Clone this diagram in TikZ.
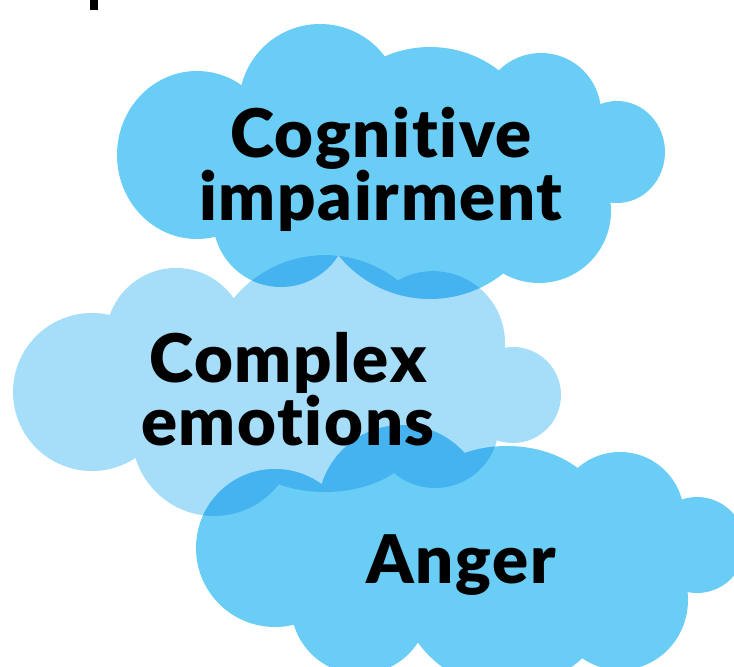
\documentclass[tikz,border=0pt]{standalone}
\usepackage{fontspec}
\setmainfont{Lato}[Ligatures=NoCommon,LetterSpace=2.5,BoldFont={Lato Black}]
\definecolor{cloudblue}{HTML}{69CDF6}
\definecolor{cloudpale}{HTML}{A6DEF9}
\definecolor{cloudoverlap}{HTML}{45B3F0}
% cloud outlines, one lobe per circle (pixel units, y down)
\newcommand\cogcloud{(197,155) ellipse [x radius=80, y radius=84]
  (320,105) circle [radius=81] (430,160) circle [radius=113]
  (541,113) circle [radius=60] (617,152) ellipse [x radius=48, y radius=51]
  (539,211) circle [radius=72] (430,181) circle [radius=118]
  (281,219) circle [radius=68]}
\newcommand\emocloud{(92,392) circle [radius=79] (176,338) circle [radius=70]
  (325,373) circle [radius=118] (433,343) circle [radius=72]
  (513,395) circle [radius=48] (435,424) circle [radius=64]
  (325,430) ellipse [x radius=96, y radius=62] (214,434) circle [radius=82]}
\newcommand\angercloud{(275,548) circle [radius=79] (402,509) circle [radius=84]
  (507,516) ellipse [x radius=97, y radius=70] (620,516) circle [radius=64]
  (697,545) circle [radius=48] (620,600) ellipse [x radius=68, y radius=70]
  (507,578) circle [radius=110] (360,605) circle [radius=69]}
\begin{document}
\begin{tikzpicture}[x=1pt,y=-1pt,
    cloudtext/.style={font=\fontsize{67}{63}\selectfont\bfseries,align=center,anchor=base,inner sep=0pt}]
    \useasboundingbox (0,0) rectangle (734,667);
    \clip (0,0) rectangle (734,667);
    \fill[white] (0,0) rectangle (734,667);
    \fill[cloudblue] \cogcloud;
    \fill[cloudpale] \emocloud;
    \fill[cloudblue] \angercloud;
    % darker where two clouds meet
    \begin{scope}
        \clip \cogcloud;
        \fill[cloudoverlap] \emocloud;
    \end{scope}
    \begin{scope}
        \clip \angercloud;
        \fill[cloudoverlap] \emocloud;
    \end{scope}
    \fill (90,0) rectangle (97.5,10);
    \node[cloudtext] (cog) at (381,220) {Cognitive\\impairment};
    \node[cloudtext] (emo) at (288,445) {Complex\\emotions};
    \node[cloudtext] (anger) at (461,583) {Anger};
\end{tikzpicture}
\end{document}
